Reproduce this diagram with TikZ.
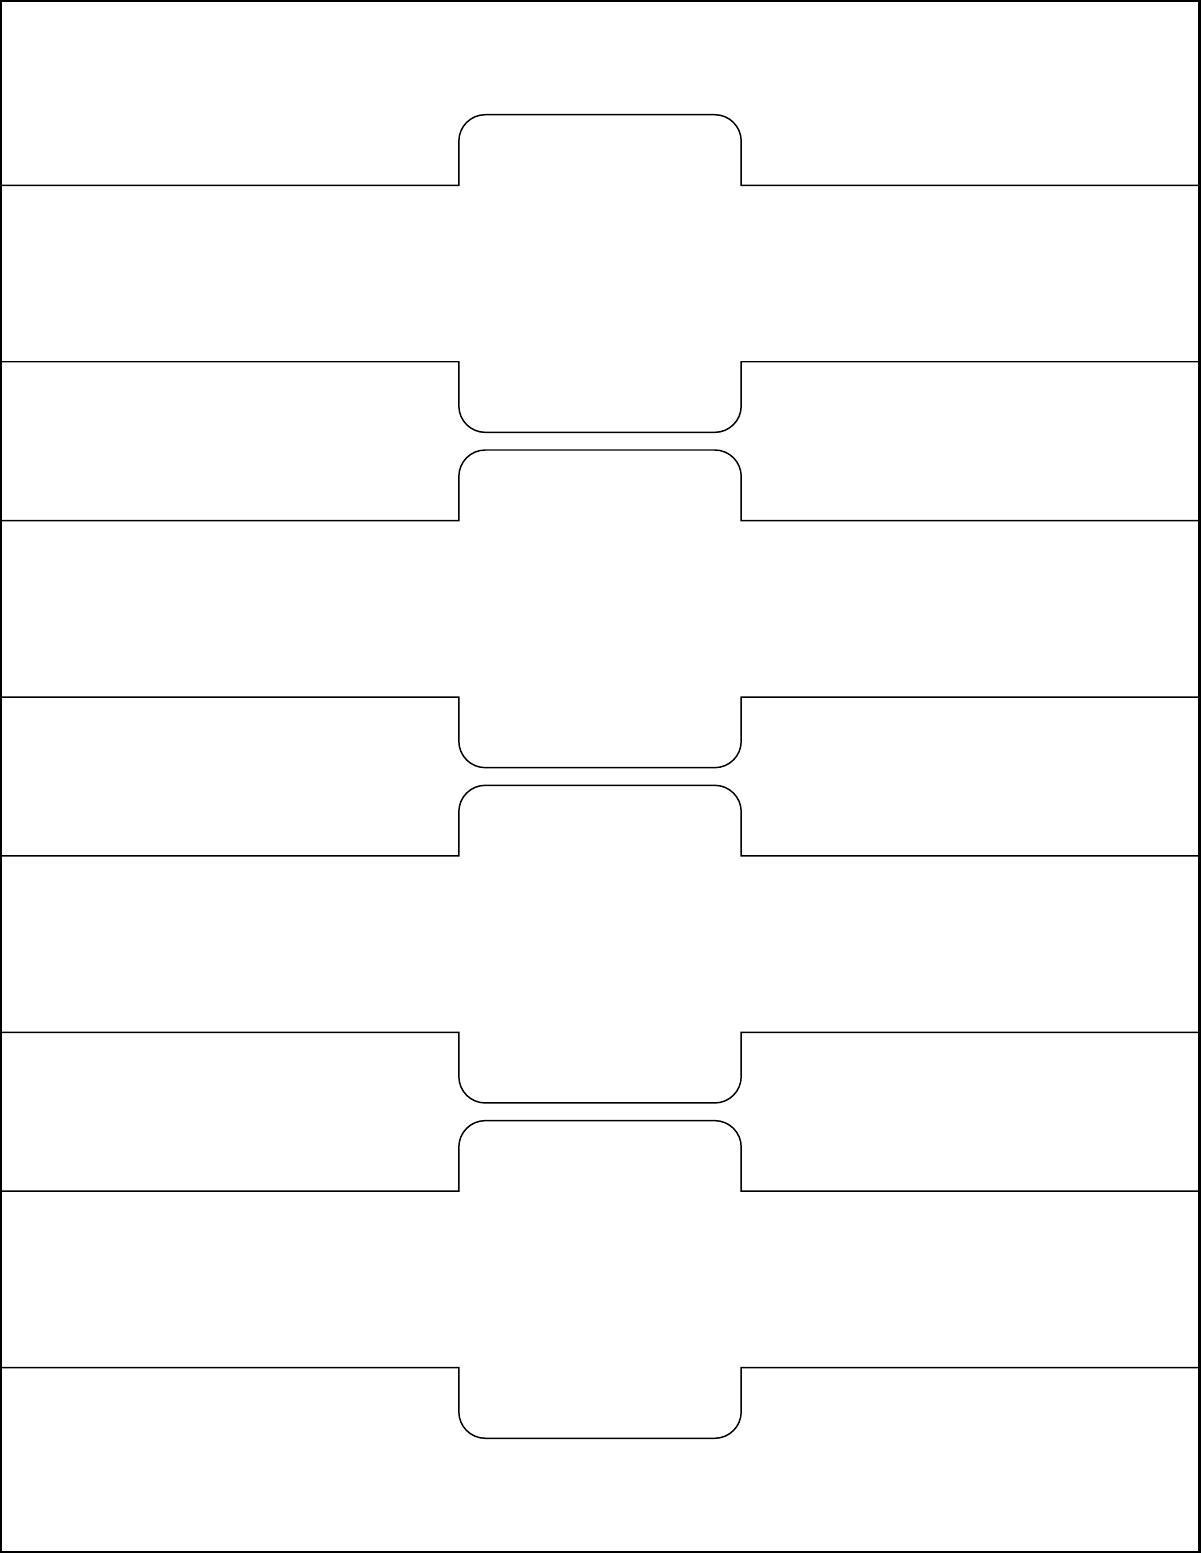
\documentclass[tikz,border=0pt]{standalone}
\usetikzlibrary{positioning}

\begin{document}
\begin{tikzpicture}[x=1in,y=1in,
    outline/.style={draw=black,line width=0.75pt,line join=miter},
    sheetframe/.style={draw=black,line width=2pt}]
                \useasboundingbox (0,0) rectangle (8.5,11);
                \draw[sheetframe] (0,0) rectangle (8.5,11);
                % four labels, one every 2.375in
                \foreach \k in {0,1,2,3} {
                    \pgfmathsetmacro{\bt}{11-1.3125-2.375*\k}
                    \pgfmathsetmacro{\bb}{\bt-1.25}
                    \pgfmathsetmacro{\tt}{\bt+0.5}
                    \pgfmathsetmacro{\tb}{\bb-0.5}
                    \coordinate (b\k) at (0,\bt);
                    \draw[outline] (b\k) -- (3.25,\bt)
                        -- (3.25,\tt-0.1875) arc[start angle=180,end angle=90,radius=0.1875]
                        -- (5.0625,\tt) arc[start angle=90,end angle=0,radius=0.1875]
                        -- (5.25,\bt) -- (8.5,\bt) -- (8.5,\bb) -- (5.25,\bb)
                        -- (5.25,\tb+0.1875) arc[start angle=0,end angle=-90,radius=0.1875]
                        -- (3.4375,\tb) arc[start angle=270,end angle=180,radius=0.1875]
                        -- (3.25,\bb) -- (0,\bb) -- cycle;
                }
            \end{tikzpicture}
\end{document}
